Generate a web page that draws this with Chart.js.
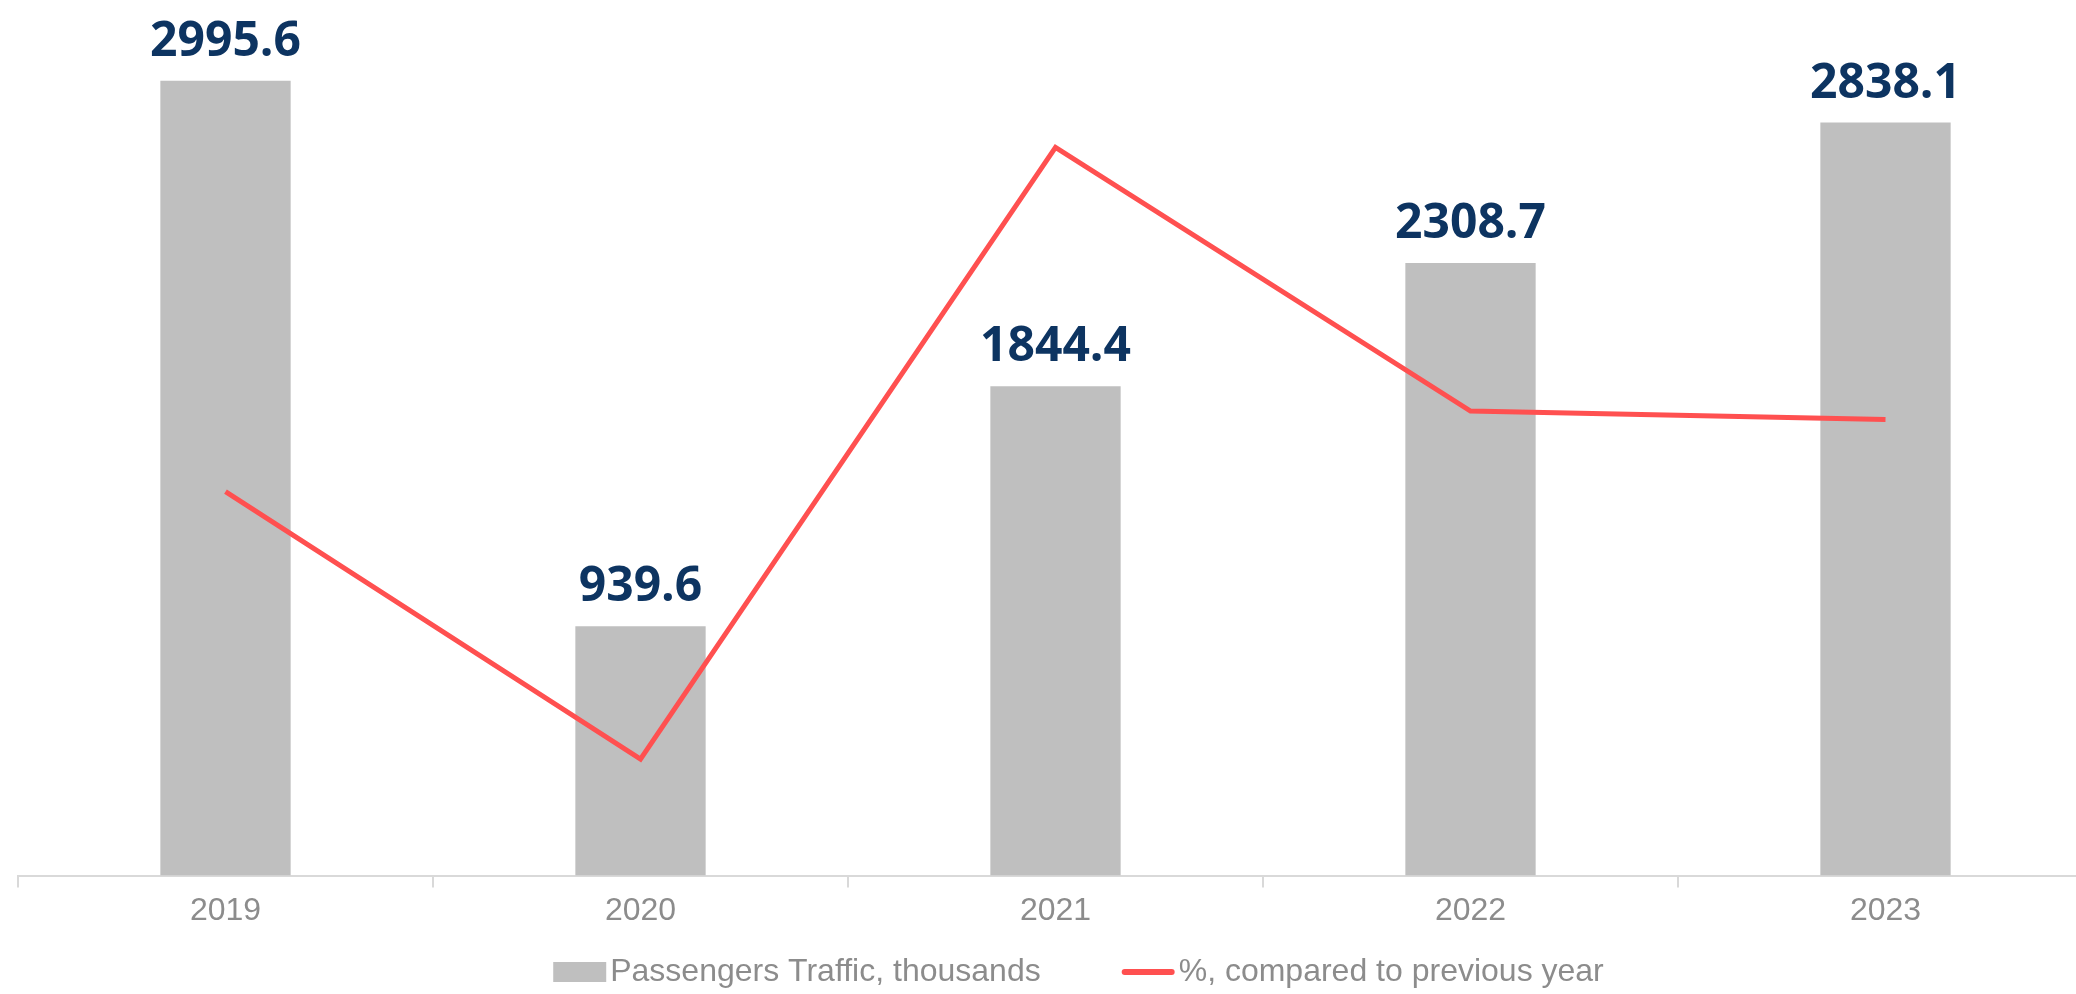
<!DOCTYPE html>
<html>
<head>
<meta charset="utf-8">
<script src="https://cdn.jsdelivr.net/npm/chart.js@4/dist/chart.umd.min.js"></script>
<style>
  html, body { margin: 0; padding: 0; background: #fff; overflow: hidden; }
  /* the plot runs slightly past the right edge in the original */
  #wrap { width: 2093px; height: 994px; position: relative; }
</style>
</head>
<body>
<div id="wrap"><canvas id="traffic-chart"></canvas></div>
<script>
// chart data
var years = ['2019', '2020', '2021', '2022', '2023'];
var passengers = [2995.6, 939.6, 1844.4, 2308.7, 2838.1]; // thousands
var changePct = [103.5, 31.4, 196.3, 125.2, 122.9]; // % vs previous year
var barLabel = 'Passengers Traffic, thousands';
var lineLabel = '%, compared to previous year';

var BAR_COLOR = '#bfbfbf';
var LINE_COLOR = '#ff5050';
var TEXT_GRAY = '#8c8c8c';
var SANS = '"Liberation Sans", Arial, sans-serif';

// draws the value above each bar (no datalabels plugin available offline)
var barValues = {
  id: 'barValues',
  afterDatasetsDraw: function (chart) {
    var ctx = chart.ctx;
    var meta = chart.getDatasetMeta(1); // bar dataset
    ctx.save();
    ctx.font = 'bold 48px "Open Sans", "Noto Sans", sans-serif';
    ctx.fillStyle = '#0d3461';
    ctx.textAlign = 'center';
    ctx.textBaseline = 'alphabetic';
    meta.data.forEach(function (bar, i) {
      ctx.fillText(passengers[i].toFixed(1), bar.x, bar.y - 25);
    });
    ctx.restore();
  }
};

// simple legend at the bottom: box / line marker right next to the text
var bottomLegend = {
  id: 'bottomLegend',
  afterDraw: function (chart) {
    var ctx = chart.ctx;
    ctx.save();
    ctx.font = '32px ' + SANS;
    ctx.textBaseline = 'middle';
    var markW = 53, gap = 4, itemGap = 81;
    var w1 = ctx.measureText(barLabel).width;
    var w2 = ctx.measureText(lineLabel).width;
    var total = markW + gap + w1 + itemGap + markW + gap + w2;
    var x = chart.width / 2 + 32 - total / 2;
    var y = chart.height - 22;

    ctx.fillStyle = BAR_COLOR;
    ctx.fillRect(x, y - 10, markW, 20);
    ctx.fillStyle = TEXT_GRAY;
    ctx.fillText(barLabel, x + markW + gap, y);

    x += markW + gap + w1 + itemGap;
    ctx.strokeStyle = LINE_COLOR;
    ctx.lineWidth = 6;
    ctx.lineCap = 'round';
    ctx.beginPath();
    ctx.moveTo(x + 3, y);
    ctx.lineTo(x + markW - 3, y);
    ctx.stroke();
    ctx.fillText(lineLabel, x + markW + gap, y);
    ctx.restore();
  }
};

var ctx = document.getElementById('traffic-chart').getContext('2d');
new Chart(ctx, {
  type: 'bar',
  data: {
    labels: years,
    datasets: [
      {
        type: 'line',
        label: lineLabel,
        data: changePct,
        yAxisID: 'yPct',
        borderColor: LINE_COLOR,
        backgroundColor: LINE_COLOR,
        borderWidth: 5,
        pointRadius: 0,
        tension: 0,
        order: 0
      },
      {
        label: barLabel,
        data: passengers,
        yAxisID: 'y',
        backgroundColor: BAR_COLOR,
        categoryPercentage: 1,
        barPercentage: 0.314,
        order: 1
      }
    ]
  },
  plugins: [barValues, bottomLegend],
  options: {
    responsive: true,
    maintainAspectRatio: false,
    animation: false,
    layout: { padding: { top: 0, left: 18, right: 0, bottom: 60 } },
    plugins: {
      tooltip: { enabled: false },
      legend: { display: false }
    },
    scales: {
      x: {
        offset: true,
        grid: {
          offset: true,
          drawOnChartArea: false,
          drawTicks: true,
          tickLength: 12,
          color: '#d9d9d9',
          lineWidth: 2
        },
        border: { display: true, color: '#d9d9d9', width: 2 },
        ticks: {
          padding: 4,
          color: TEXT_GRAY,
          font: { family: SANS, size: 32 }
        }
      },
      y: { display: false, min: 0, max: 3300 },
      yPct: { display: false, min: 0, max: 236, position: 'right' }
    }
  }
});
</script>
</body>
</html>
